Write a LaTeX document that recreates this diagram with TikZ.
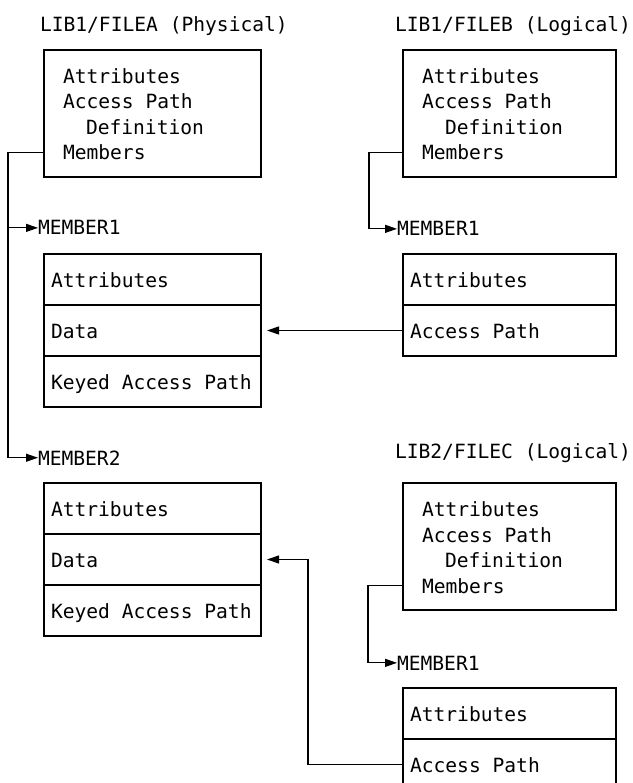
\documentclass[tikz,border=0pt]{standalone}
\usepackage{fontspec}
\setmainfont{DejaVu Sans Mono}
\usetikzlibrary{arrows.meta}

% left-aligned cell text of a fixed width
\newcommand{\cellline}[2]{\makebox[#1][l]{#2}}

\tikzset{
  wire/.style={line width=1.2pt},
  feed/.style={wire, -{Triangle[length=12pt,width=8pt]}},
  txt/.style={font=\fontsize{19.6}{25}\selectfont, inner sep=0pt, outer sep=0pt},
  lbl/.style={txt, anchor=base west},
  filebox/.style={draw, line width=1.2pt, minimum height=127pt, inner sep=0pt, outer sep=0pt, anchor=north west},
  cellrow/.style={draw, line width=1.2pt, txt, inner xsep=7pt, inner ysep=0pt,
                  text height=16pt, text depth=0pt, minimum height=51pt, anchor=north west},
}

\begin{document}
\begin{tikzpicture}[x=1pt,y=-1pt]
\useasboundingbox (0,0) rectangle (632,783);
\fill[white] (0,0) rectangle (632,783);
\clip (0,0) rectangle (632,783);

% vertical rails of the connectors
\coordinate (kA) at (8,0);
\coordinate (kB) at (369,0);
\coordinate (kC) at (368,0);
\coordinate (kD) at (308,0);

% ---- LIB1/FILEA (physical file) ----
\node[lbl] (tA) at (40,32) {LIB1/FILEA (Physical)};
\node[filebox, minimum width=217pt] (fA) at (44,50) {};
\node[lbl] (fAattr) at (63,83.5) {Attributes};
\node[lbl] (fApath) at (63,109) {Access Path};
\node[lbl] (fAdef)  at (86,134.5) {Definition};
\node[lbl] (fAmem)  at (63,160) {Members};

\node[lbl] (m1lbl) at (38,235) {MEMBER1};
\node[cellrow] (m1a) at (44,254) {\cellline{203pt}{Attributes}};
\node[cellrow] (m1d) at (m1a.south west) {\cellline{203pt}{Data}};
\node[cellrow] (m1k) at (m1d.south west) {\cellline{203pt}{Keyed Access Path}};

\node[lbl] (m2lbl) at (38,465) {MEMBER2};
\node[cellrow] (m2a) at (44,483) {\cellline{203pt}{Attributes}};
\node[cellrow] (m2d) at (m2a.south west) {\cellline{203pt}{Data}};
\node[cellrow] (m2k) at (m2d.south west) {\cellline{203pt}{Keyed Access Path}};

\draw[feed] (fA.west |- fAmem) -| (kA |- m2lbl.west) -- (m2lbl.west);
\draw[feed] (kA |- m1lbl.west) -- (m1lbl.west);

% ---- LIB1/FILEB (logical file) ----
\node[lbl] (tB) at (395,32) {LIB1/FILEB (Logical)};
\node[filebox, minimum width=213pt] (fB) at (403,50) {};
\node[lbl] (fBattr) at (422,83.5) {Attributes};
\node[lbl] (fBpath) at (422,109) {Access Path};
\node[lbl] (fBdef)  at (445,134.5) {Definition};
\node[lbl] (fBmem)  at (422,160) {Members};

\node[lbl] (bM1) at (397,236) {MEMBER1};
\node[cellrow] (b1a) at (403,254) {\cellline{199pt}{Attributes}};
\node[cellrow] (b1p) at (b1a.south west) {\cellline{199pt}{Access Path}};

\draw[feed] (fB.west |- fBmem) -| (kB |- bM1.west) -- (bM1.west);
\draw[feed, shorten >=6pt] (b1p.west) -- (m1d.east);

% ---- LIB2/FILEC (logical file) ----
\node[lbl] (tC) at (395,458) {LIB2/FILEC (Logical)};
\node[filebox, minimum width=213pt] (fC) at (403,483) {};
\node[lbl] (fCattr) at (422,516.5) {Attributes};
\node[lbl] (fCpath) at (422,542) {Access Path};
\node[lbl] (fCdef)  at (445,567.5) {Definition};
\node[lbl] (fCmem)  at (422,593) {Members};

\node[lbl] (cM1) at (397,670) {MEMBER1};
\node[cellrow] (c1a) at (403,688) {\cellline{199pt}{Attributes}};
\node[cellrow] (c1p) at (c1a.south west) {\cellline{199pt}{Access Path}};

\draw[feed] (fC.west |- fCmem) -| (kC |- cM1.west) -- (cM1.west);
\draw[feed, shorten >=6pt] (c1p.west) -| (kD |- m2d.east) -- (m2d.east);
\end{tikzpicture}
\end{document}
